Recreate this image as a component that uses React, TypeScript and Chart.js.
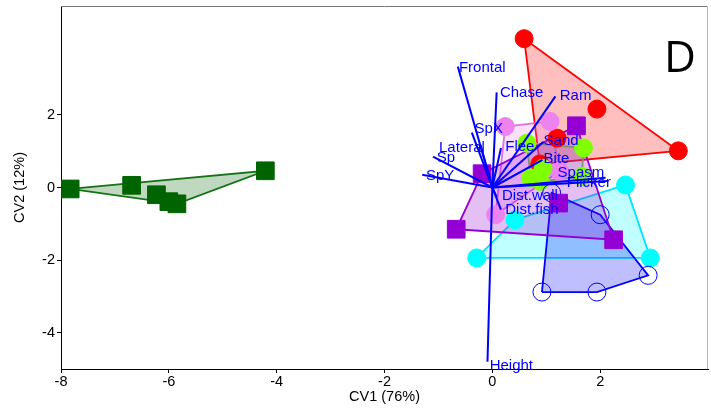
import React, { useEffect, useRef } from 'react';
import { Chart, registerables } from 'chart.js';

Chart.register(...registerables);

// Axis ticks
const xTicks = [-8, -6, -4, -2, 0, 2];
const yTicks = [-4, -2, 0, 2];

// Group scores (CV1, CV2)
const greenSquares = [[-7.83, -0.04], [-6.69, 0.06], [-6.23, -0.2], [-6.0, -0.39], [-5.85, -0.45], [-4.21, 0.46]];
const redCircles = [[0.59, 4.1], [1.94, 2.16], [3.45, 1.01], [1.2, 1.36], [0.88, 0.65]];
const violetCircles = [[0.24, 1.68], [1.07, 1.82], [1.25, 0.45], [0.06, -0.75]];
const limeCircles = [[0.64, 1.22], [1.69, 1.09], [0.94, 0.53], [0.71, 0.26], [1.66, 0.3], [0.89, 0.17]];
const cyanCircles = [[2.47, 0.07], [-0.29, -1.94], [2.93, -1.94], [0.42, -0.89]];
const purpleSquares = [[-0.19, 0.38], [1.56, 1.7], [-0.67, -1.15], [2.25, -1.44], [1.23, -0.43]];
const blueOpenCircles = [[1.1, -0.15], [2.0, -0.75], [2.89, -2.42], [1.94, -2.88], [0.92, -2.88]];

// Variable loadings (biplot vectors)
const loadingNames = ['Frontal', 'Chase', 'Ram', 'SpX', 'Lateral', 'Sp', 'SpY', 'Flee', 'Sand', 'Bite', 'Spasm', 'Flicker', 'Dist.wall', 'Dist.fish', 'Height'];
const loadingX = [-0.64, 0.08, 1.17, -0.38, -0.22, -1.1, -1.3, 0.16, 0.95, 0.93, 2.1, 2.15, 0.08, 0.16, -0.09];
const loadingY = [3.33, 2.62, 2.51, 1.51, 1.18, 0.85, 0.35, 1.09, 1.26, 0.76, 0.27, 0.18, -0.26, -0.61, -4.8];
const labelX = [-0.62, 0.14, 1.25, -0.33, -0.99, -1.03, -1.23, 0.24, 0.95, 0.95, 1.21, 1.38, 0.18, 0.24, -0.05];
const labelY = [3.3, 2.61, 2.53, 1.62, 1.09, 0.83, 0.32, 1.11, 1.29, 0.8, 0.4, 0.13, -0.23, -0.61, -4.92];

const panelLetter = 'D';

type P = { x: number; y: number };

function toPts(a: number[][]): P[] {
  return a.map((v) => ({ x: v[0], y: v[1] }));
}

function hull(a: number[][]): P[] {
  const p = toPts(a).sort((u, v) => u.x - v.x || u.y - v.y);
  const cross = (o: P, b: P, c: P) => (b.x - o.x) * (c.y - o.y) - (b.y - o.y) * (c.x - o.x);
  const lower: P[] = [];
  for (const q of p) {
    while (lower.length >= 2 && cross(lower[lower.length - 2], lower[lower.length - 1], q) <= 0) lower.pop();
    lower.push(q);
  }
  const upper: P[] = [];
  for (let i = p.length - 1; i >= 0; i--) {
    const q = p[i];
    while (upper.length >= 2 && cross(upper[upper.length - 2], upper[upper.length - 1], q) <= 0) upper.pop();
    upper.push(q);
  }
  upper.pop();
  lower.pop();
  const h = lower.concat(upper);
  return [...h, h[0]];
}

const FONT = '"Liberation Sans", Arial, Helvetica, sans-serif';

export default function App() {
  const ref = useRef<HTMLCanvasElement | null>(null);

  useEffect(() => {
    if (!ref.current) return;

    // z: larger value = drawn earlier (further back)
    const groups = [
      { pts: greenSquares, style: 'rect', r: 12.5, fill: '#006400', stroke: '#006400', hullFill: 'rgba(0,100,0,0.25)', hullStroke: 'rgb(20,115,20)', z: 0.1 },
      { pts: redCircles, style: 'circle', r: 9, fill: '#ff0000', stroke: '#ff0000', hullFill: 'rgba(255,0,0,0.25)', hullStroke: '#ff0000', z: 0.7 },
      { pts: violetCircles, style: 'circle', r: 9, fill: '#ee82ee', stroke: '#ee82ee', hullFill: 'rgba(238,130,238,0.25)', hullStroke: '#e070e0', z: 0.6 },
      { pts: limeCircles, style: 'circle', r: 9, fill: '#7fff00', stroke: '#7fff00', hullFill: 'rgba(140,160,120,0.2)', hullStroke: '#80c050', z: 0.5 },
      { pts: cyanCircles, style: 'circle', r: 9, fill: '#00ffff', stroke: '#00ffff', hullFill: 'rgba(0,255,255,0.25)', hullStroke: '#00e5ff', z: 0.4 },
      { pts: purpleSquares, style: 'rect', r: 12.5, fill: '#9400d3', stroke: '#9400d3', hullFill: 'rgba(148,0,211,0.25)', hullStroke: '#9400d3', z: 0.2 },
      { pts: blueOpenCircles, style: 'circle', r: 9, fill: 'rgba(0,0,0,0)', stroke: '#0000ff', hullFill: 'rgba(0,0,255,0.25)', hullStroke: '#0000ff', z: 0.3 },
    ];

    const datasets: any[] = [];
    groups.forEach((g) => {
      datasets.push({
        type: 'line',
        data: hull(g.pts),
        fill: 'shape',
        backgroundColor: g.hullFill,
        borderColor: g.hullStroke,
        borderWidth: 1.8,
        pointRadius: 0,
        tension: 0,
        order: 3 + g.z,
      });
    });
    groups.forEach((g) => {
      datasets.push({
        type: 'scatter',
        data: toPts(g.pts),
        pointStyle: g.style,
        pointRadius: g.r,
        backgroundColor: g.fill,
        borderColor: g.stroke,
        borderWidth: 1,
        order: 2 + g.z,
      });
    });
    loadingNames.forEach((_, i) => {
      datasets.push({
        type: 'line',
        data: [{ x: 0, y: 0 }, { x: loadingX[i], y: loadingY[i] }],
        borderColor: '#0000ff',
        borderWidth: 2,
        pointRadius: 0,
        fill: false,
        order: 1,
      });
    });

    const frame = {
      id: 'frame',
      afterDraw(chart: any) {
        const { ctx, chartArea } = chart;
        ctx.save();
        ctx.lineWidth = 1;
        ctx.strokeStyle = '#777';
        ctx.beginPath();
        ctx.moveTo(chartArea.left, chartArea.top + 0.5);
        ctx.lineTo(chartArea.right, chartArea.top + 0.5);
        ctx.stroke();
        ctx.strokeStyle = '#bbb';
        ctx.beginPath();
        ctx.moveTo(chartArea.right - 0.5, chartArea.top);
        ctx.lineTo(chartArea.right - 0.5, chartArea.bottom);
        ctx.stroke();
        ctx.restore();
      },
    };

    const labels = {
      id: 'loadingLabels',
      afterDatasetsDraw(chart: any) {
        const { ctx, scales, chartArea } = chart;
        ctx.save();
        ctx.font = `15px ${FONT}`;
        ctx.fillStyle = '#0000ff';
        ctx.textAlign = 'left';
        ctx.textBaseline = 'middle';
        loadingNames.forEach((n, i) => {
          ctx.fillText(n, scales.x.getPixelForValue(labelX[i]), scales.y.getPixelForValue(labelY[i]));
        });
        ctx.fillStyle = '#000';
        ctx.font = `44px "Open Sans", ${FONT}`;
        ctx.textBaseline = 'alphabetic';
        ctx.fillText(panelLetter, chartArea.right - 44, chartArea.top + 66);
        ctx.restore();
      },
    };

    const zeroPad = (axis: any) => {
      axis.paddingLeft = 0;
      axis.paddingRight = 0;
      axis.paddingTop = 0;
      axis.paddingBottom = 0;
    };

    const chart = new Chart(ref.current, {
      type: 'scatter',
      data: { datasets },
      options: {
        animation: false,
        responsive: true,
        maintainAspectRatio: false,
        devicePixelRatio: 1,
        layout: { autoPadding: false, padding: { left: 0, right: 3, top: 6, bottom: 0 } },
        plugins: { legend: { display: false }, tooltip: { enabled: false } },
        scales: {
          x: {
            type: 'linear',
            min: -8,
            max: 4,
            afterBuildTicks: (axis: any) => {
              axis.ticks = xTicks.map((v) => ({ value: v }));
            },
            afterFit: (axis: any) => {
              axis.height = 44;
              zeroPad(axis);
            },
            grid: { drawOnChartArea: false, drawTicks: true, tickLength: 4, color: '#000' },
            border: { display: true, color: '#000', width: 1 },
            ticks: { color: '#000', font: { family: FONT, size: 14.5 }, padding: 0, maxRotation: 0 },
            title: { display: true, text: 'CV1 (76%)', color: '#000', font: { family: FONT, size: 14.5 }, padding: { top: 7.3, bottom: 7.3 } },
          },
          y: {
            type: 'linear',
            min: -5,
            max: 5,
            afterBuildTicks: (axis: any) => {
              axis.ticks = yTicks.map((v) => ({ value: v }));
            },
            afterFit: (axis: any) => {
              axis.width = 61;
              zeroPad(axis);
            },
            grid: { drawOnChartArea: false, drawTicks: true, tickLength: 4, color: '#000' },
            border: { display: true, color: '#000', width: 1 },
            ticks: { color: '#000', font: { family: FONT, size: 14.5 }, padding: 2 },
            title: { display: true, text: 'CV2 (12%)', color: '#000', font: { family: FONT, size: 14.5 }, padding: { top: 11.3, bottom: 11.3 } },
          },
        },
      } as any,
      plugins: [frame, labels],
    });

    return () => chart.destroy();
  }, []);

  return (
    <div style={{ position: 'absolute', left: 0, top: 0, width: 711, height: 413, background: '#fff' }}>
      <canvas ref={ref} />
    </div>
  );
}
